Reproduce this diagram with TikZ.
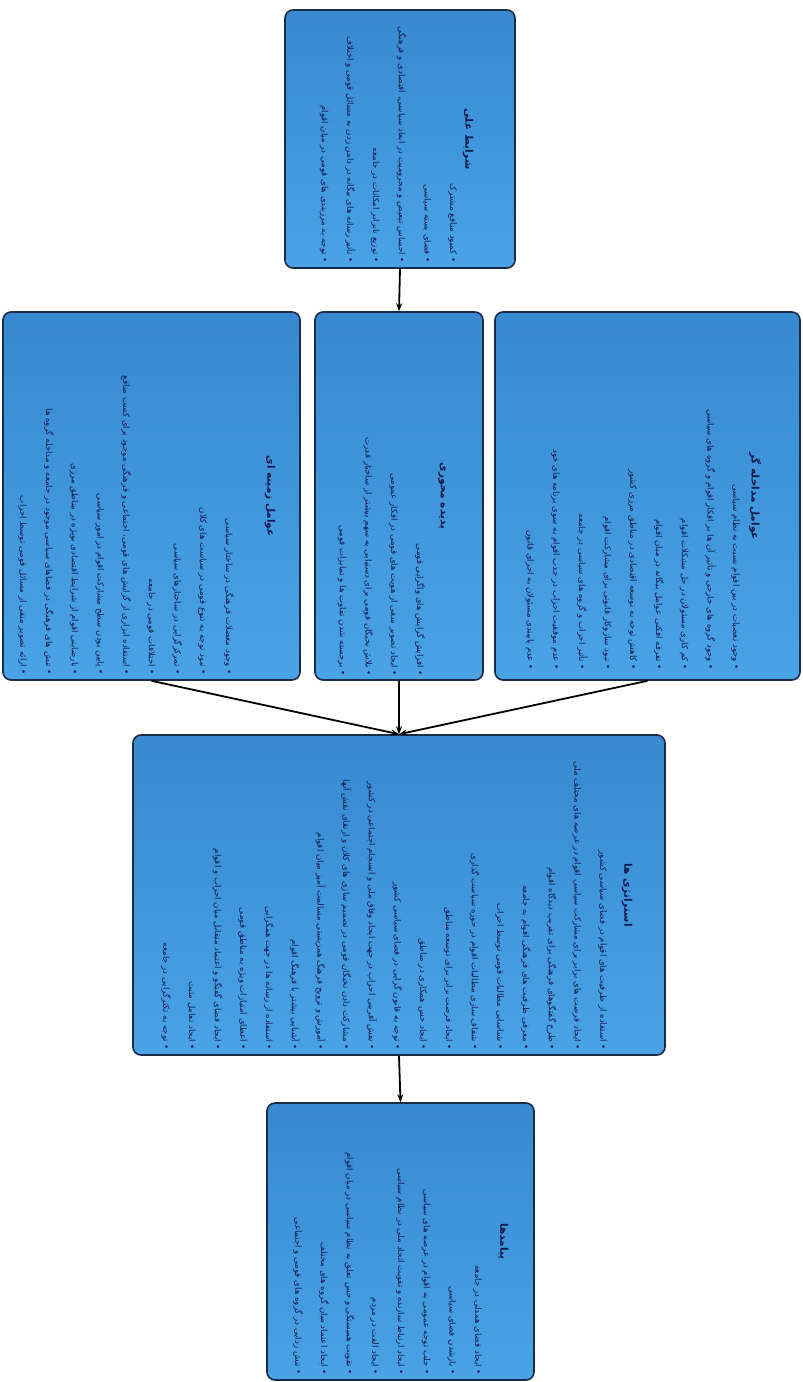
\documentclass[tikz,border=0pt]{standalone}
\usepackage{fontspec}
\usepackage{xcolor}
\usetikzlibrary{arrows.meta,calc}
\newfontfamily\fa[Script=Arabic]{DejaVu Sans}
\TeXXeTstate=1
\definecolor{boxtop}{HTML}{3889D0}
\definecolor{boxbot}{HTML}{49A3E5}
\definecolor{boxedge}{HTML}{1B2B45}
\definecolor{txtblue}{HTML}{101A4E}
% one bullet line and one heading, right to left
\newcommand{\fitem}[1]{\beginR•\ #1\endR}
\newcommand{\ftitle}[1]{\beginR #1\endR}

\begin{document}
\begin{tikzpicture}[x=1pt, y=-1pt,
    para box/.style={draw=boxedge, line width=1.6pt, rounded corners=8pt, top color=boxtop, bottom color=boxbot, inner sep=0pt},
    para text/.style={rotate=-90, anchor=north east, inner sep=0pt, align=right, text=txtblue, font=\fa\fontsize{8.6}{25.7}\selectfont},
    para title/.style={rotate=-90, inner sep=0pt, text=txtblue, font=\fa\bfseries\fontsize{10.5}{12}\selectfont},
    flow/.style={-{Stealth[length=8pt,width=6pt]}, line width=1.8pt}]
    \useasboundingbox (0,0) rectangle (803,1382);

    % boxes
    \node[para box, minimum width=230pt, minimum height=258pt] (causal) at (400,139) {};
    \node[para box, minimum width=297pt, minimum height=368pt] (context) at (151.5,496) {};
    \node[para box, minimum width=168pt, minimum height=368pt] (core) at (399,496) {};
    \node[para box, minimum width=305pt, minimum height=368pt] (interv) at (647.5,496) {};
    \node[para box, minimum width=532pt, minimum height=320pt] (strat) at (399,895) {};
    \node[para box, minimum width=267pt, minimum height=277pt] (conseq) at (400.5,1241.5) {};

    % headings
    \node[para title] (causal-t) at (468,139) {\ftitle{شرایط علی}};
    \node[para title] (context-t) at (270,496) {\ftitle{عوامل زمینه ای}};
    \node[para title] (core-t) at (442,496) {\ftitle{پدیده محوری}};
    \node[para title] (interv-t) at (755,496) {\ftitle{عوامل مداخله گر}};
    \node[para title] (strat-t) at (627,895) {\ftitle{استراتژی ها}};
    \node[para title] (conseq-t) at (503,1241.5) {\ftitle{پیامدها}};

    % bullet lists
    \node[para text] (causal-l) at (457,263) {%
        \fitem{کمبود منافع مشترک}\\
        \fitem{فضای بسته سیاسی}\\
        \fitem{احساس تبعیض و محرومیت در ابعاد سیاسی، اقتصادی و فرهنگی}\\
        \fitem{توزیع نابرابر امکانات در جامعه}\\
        \fitem{تأثیر رسانه های بیگانه در دامن زدن به مسائل قومی و اختلاف}\\
        \fitem{توجه به مرزبندی های قومی در میان اقوام}};
    \node[para text] (context-l) at (234,675) {%
        \fitem{وجود معضلات فرهنگی در ساختار سیاسی}\\
        \fitem{نبود توجه به تنوع قومی در سیاست های کلان}\\
        \fitem{تمرکزگرایی در ساختارهای سیاسی}\\
        \fitem{اختلافات قومی در جامعه}\\
        \fitem{استفاده ابزاری از گرایش های قومی، اجتماعی و فرهنگی موجود برای کسب منافع}\\
        \fitem{پایین بودن سطح مشارکت اقوام در امور سیاسی}\\
        \fitem{نارضایتی اقوام از شرایط اقتصادی بویژه در مناطق مرزی}\\
        \fitem{تنش های فرهنگی در فضاهای سیاسی موجود در جامعه و مداخله گروه ها}\\
        \fitem{ارائه تصویر منفی از مسائل قومی توسط احزاب}};
    \node[para text] (core-l) at (425,676) {%
        \fitem{افزایش گرایش های واگرایی قومی}\\
        \fitem{ایجاد تصویر منفی از هویت های قومی در افکار عمومی}\\
        \fitem{تلاش نخبگان قومی برای دستیابی به سهم بیشتر از ساختار قدرت}\\
        \fitem{برجسته شدن تفاوت ها و تمایزات قومی}};
    \node[para text] (interv-l) at (740,670) {%
        \fitem{وجود تعصبات در بین اقوام نسبت به نظام سیاسی}\\
        \fitem{وجود گروه های خارجی و تأثیر آن ها بر افکار اقوام و گروه های سیاسی}\\
        \fitem{کم کاری مسئولان در حل مشکلات اقوام}\\
        \fitem{تفرقه افکنی عوامل بیگانه در میان اقوام}\\
        \fitem{کاهش توجه به توسعه اقتصادی در مناطق مرزی کشور}\\
        \fitem{نبود سازوکار قانونی برای مشارکت اقوام}\\
        \fitem{تأثیر احزاب و گروه های سیاسی در جامعه}\\
        \fitem{عدم موفقیت احزاب در جذب اقوام به سوی برنامه های خود}\\
        \fitem{عدم پایبندی مسئولان به اجرای قانون}};
    \node[para text] (strat-l) at (607,1050) {%
        \fitem{استفاده از ظرفیت های اقوام در فضای سیاسی کشور}\\
        \fitem{ایجاد فرصت های برابر برای مشارکت سیاسی اقوام در عرصه های مختلف ملی}\\
        \fitem{طرح گفتگوهای فرهنگی برای تقریب دیدگاه اقوام}\\
        \fitem{معرفی ظرفیت های فرهنگی اقوام به جامعه}\\
        \fitem{شناسایی مطالبات قومی توسط احزاب}\\
        \fitem{شفاف سازی مطالبات اقوام در حوزه سیاست گذاری}\\
        \fitem{ایجاد فرصت برابر برای توسعه مناطق}\\
        \fitem{ایجاد حس همکاری در مناطق}\\
        \fitem{توجه به قانون گرایی در فضای سیاسی کشور}\\
        \fitem{نقش آفرینی احزاب در جهت ایجاد وفاق ملی و انسجام اجتماعی در کشور}\\
        \fitem{مشارکت دادن نخبگان قومی در تصمیم سازی های کلان و ارتقای نقش آنها}\\
        \fitem{آموزش و ترویج فرهنگ همزیستی مسالمت آمیز میان اقوام}\\
        \fitem{آشنایی بیشتر با فرهنگ اقوام}\\
        \fitem{استفاده از رسانه ها در جهت همگرایی}\\
        \fitem{اعطای امتیازات ویژه به مناطق قومی}\\
        \fitem{ایجاد فضای گفتگو و اعتماد متقابل میان احزاب و اقوام}\\
        \fitem{ایجاد تعامل مثبت}\\
        \fitem{توجه به تکثرگرایی در جامعه}};
    \node[para text] (conseq-l) at (482,1375) {%
        \fitem{ایجاد فضای همدلی در جامعه}\\
        \fitem{بازشدن فضای سیاسی}\\
        \fitem{جلب توجه عمومی به اقوام در عرصه های سیاسی}\\
        \fitem{ایجاد ارتباط سازنده و تقویت اتحاد ملی در نظام سیاسی}\\
        \fitem{ایجاد الفت در مردم}\\
        \fitem{تقویت همبستگی و حس تعلق به نظام سیاسی در میان اقوام}\\
        \fitem{ایجاد اعتماد میان گروه های مختلف}\\
        \fitem{تنش زدایی در گروه های قومی و اجتماعی}};

    % connectors
    \draw[flow] (causal.south) -- (core.north);
    \draw[flow] (context.south) -- (strat.north);
    \draw[flow] (core.south) -- (strat.north);
    \draw[flow] (interv.south) -- (strat.north);
    \draw[flow] (strat.south) -- (conseq.north);
\end{tikzpicture}
\end{document}
